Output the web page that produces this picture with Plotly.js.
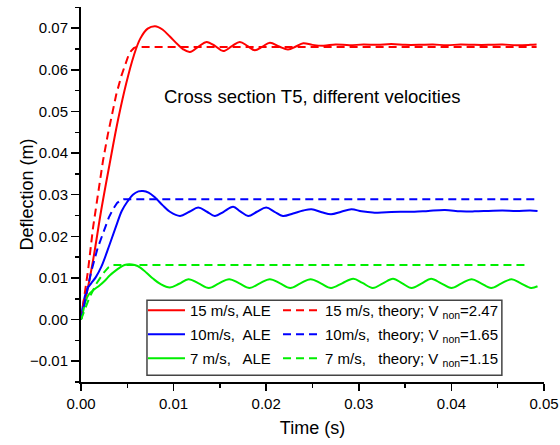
<!DOCTYPE html>
<html>
<head>
<meta charset="utf-8">
<script src="https://cdn.plot.ly/plotly-3.0.1.min.js"></script>
<style>html,body{margin:0;padding:0;background:#fff;} #chart{width:560px;height:445px;}</style>
</head>
<body>
<div id="chart"></div>
<script>
// ---- data ----
var tRed = [0,0.0003,0.0006,0.0013,0.0022,0.0031,0.0040,0.0049,0.0057,0.0064,0.0072,0.0080,0.0088,0.0096,0.0104,0.0110,0.01176,0.0127,0.01356,0.0145,0.01535,0.0163,0.01715,0.0180,0.01877,0.0196,0.0204,0.0214,0.02236,0.0232,0.0240,0.0250,0.0262,0.0275,0.0290,0.0305,0.0320,0.0335,0.0350,0.0365,0.0380,0.0395,0.0410,0.0425,0.0440,0.0455,0.0470,0.0485,0.0492];
var dRed = [0,0.0038,0.0062,0.0142,0.0265,0.0375,0.0480,0.0569,0.0634,0.0675,0.0699,0.0705,0.0697,0.0680,0.0662,0.0650,0.0643,0.0656,0.0667,0.0657,0.0645,0.0657,0.0667,0.0657,0.0647,0.0656,0.0665,0.0656,0.0649,0.0656,0.0664,0.0660,0.0658,0.0661,0.0659,0.0661,0.0660,0.0662,0.0660,0.0660,0.0661,0.0659,0.0661,0.0660,0.0660,0.0661,0.0659,0.0660,0.0661];

var tRedTh = [0,0.0004,0.00076,0.0013,0.0018,0.00237,0.0029,0.0033,0.0038,0.00435,0.0048,0.0051,0.0054,0.0057,0.0060,0.0492];
var dRedTh = [0,0.0062,0.0118,0.0221,0.0300,0.0381,0.0445,0.0489,0.0540,0.0585,0.0615,0.0633,0.0645,0.0652,0.0655,0.0655];

var tBlue = [0,0.0003,0.0007,0.0011,0.0016,0.0022,0.0031,0.0038,0.0044,0.0050,0.0056,0.0062,0.0067,0.0073,0.0080,0.0088,0.0096,0.0107,0.0117,0.01266,0.0136,0.01446,0.0154,0.01643,0.0172,0.01805,0.0190,0.0200,0.0209,0.0218,0.0229,0.0240,0.0249,0.0260,0.0270,0.0281,0.0292,0.0303,0.0315,0.0330,0.0345,0.0360,0.0375,0.0393,0.0410,0.0425,0.0440,0.0455,0.0470,0.0485,0.0493];
var dBlue = [0,0.0045,0.0075,0.0087,0.0102,0.0127,0.0181,0.0225,0.0261,0.0283,0.0300,0.0308,0.0309,0.0305,0.0293,0.0275,0.0259,0.0249,0.0259,0.0269,0.0259,0.0249,0.0259,0.0271,0.0260,0.0249,0.0259,0.0269,0.0259,0.0249,0.0255,0.0262,0.0265,0.0258,0.0253,0.0259,0.0265,0.0260,0.0257,0.0258,0.0259,0.0259,0.0261,0.0263,0.0260,0.0260,0.0261,0.0262,0.0261,0.0262,0.0261];

var tBlueTh = [0,0.0005,0.0011,0.0018,0.00255,0.0030,0.00345,0.0039,0.0043,0.0046,0.0490];
var dBlueTh = [0,0.0055,0.0115,0.0172,0.0221,0.0245,0.0265,0.0280,0.0287,0.0289,0.0289];

var tGreen = [0,0.00025,0.0005,0.0009,0.0014,0.0020,0.0026,0.0031,0.0037,0.0042,0.0047,0.0052,0.0058,0.0064,0.0071,0.0078,0.0086,0.0096,0.0106,0.0116,0.0127,0.0138,0.0149,0.0160,0.0171,0.0182,0.0193,0.0204,0.0215,0.0226,0.0237,0.0248,0.0259,0.0270,0.0282,0.0294,0.0304,0.0315,0.0326,0.0337,0.0347,0.0357,0.0368,0.0378,0.0389,0.0400,0.0411,0.0422,0.0432,0.0443,0.0454,0.0465,0.0475,0.0486,0.0493];
var dGreen = [0,0.0022,0.0045,0.0062,0.0072,0.0082,0.0094,0.0106,0.0117,0.0125,0.0131,0.0133,0.0131,0.0125,0.0112,0.0098,0.0085,0.0077,0.0086,0.0097,0.0087,0.0076,0.0087,0.0097,0.0087,0.0076,0.0087,0.0097,0.0087,0.0076,0.0087,0.0097,0.0087,0.0076,0.0087,0.0098,0.0088,0.0076,0.0087,0.0098,0.0087,0.0076,0.0087,0.0098,0.0087,0.0076,0.0087,0.0097,0.0087,0.0076,0.0087,0.0097,0.0087,0.0076,0.0080];

var tGreenTh = [0,0.0004,0.0009,0.00165,0.0020,0.00237,0.0027,0.0030,0.0033,0.0035,0.0481];
var dGreenTh = [0,0.0025,0.0052,0.0086,0.0099,0.0110,0.0119,0.0126,0.0130,0.0131,0.0131];

var aleNames = ['15 m/s, ALE', '10m/s,\u00a0 ALE', '7 m/s,\u00a0\u00a0 ALE'];
var thNames = ['15 m/s, theory; V <sub>non</sub>=2.47', '10m/s,\u00a0 theory; V <sub>non</sub>=1.65', '7 m/s,\u00a0\u00a0 theory; V <sub>non</sub>=1.15'];
var xTicks = [0, 0.01, 0.02, 0.03, 0.04, 0.05];
var yTicks = [-0.01, 0, 0.01, 0.02, 0.03, 0.04, 0.05, 0.06, 0.07];
var titleText = 'Cross section T5, different velocities';

// ---- styling ----
var FONT = 'Liberation Sans, Arial, Helvetica, sans-serif';
var RED = '#ff0000', BLUE = '#0000ff', GREEN = '#00ee00';

function solid(x, y, c, name, g){
  return {x:x, y:y, type:'scatter', mode:'lines', name:name, legend:'legend', legendgroup:g,
          line:{color:c, width:2, shape:'spline', smoothing:1.0}};
}
function dashed(x, y, c, name, g){
  return {x:x, y:y, type:'scatter', mode:'lines', name:name, legend:'legend2', legendgroup:g,
          line:{color:c, width:2, dash:'8px,5px', shape:'linear'}};
}

var traces = [
  solid(tRed, dRed, RED, aleNames[0], 'a1'),
  solid(tBlue, dBlue, BLUE, aleNames[1], 'a2'),
  solid(tGreen, dGreen, GREEN, aleNames[2], 'a3'),
  dashed(tRedTh, dRedTh, RED, thNames[0], 't1'),
  dashed(tBlueTh, dBlueTh, BLUE, thNames[1], 't2'),
  dashed(tGreenTh, dGreenTh, GREEN, thNames[2], 't3')
];

var legendCommon = {
  bgcolor:'rgba(0,0,0,0)', borderwidth:0, orientation:'v',
  xanchor:'left', yanchor:'top', y:0.2346, tracegroupgap:1.5,
  font:{family:FONT, size:15, color:'#000'}, itemwidth:37, traceorder:'grouped'
};

var layout = {
  width:560, height:445,
  margin:{l:81, r:16, t:7, b:63},
  paper_bgcolor:'#fff', plot_bgcolor:'#fff',
  font:{family:FONT, color:'#000'},
  showlegend:true,
  legend: Object.assign({}, legendCommon, {x:0.1339}),
  legend2: Object.assign({}, legendCommon, {x:0.4255}),
  xaxis:{
    range:[0,0.05], tickvals:xTicks, tickformat:'.2f',
    ticks:'outside', ticklen:7, tickwidth:1.5, tickcolor:'#000',
    showline:true, linewidth:2, linecolor:'#000', mirror:false,
    showgrid:false, zeroline:false,
    tickfont:{family:FONT, size:15, color:'#000'},
    minor:{dtick:0.005, ticks:'outside', ticklen:4, tickwidth:1.5, tickcolor:'#000', showgrid:false},
    title:{text:'Time (s)', font:{family:FONT, size:18, color:'#000'}, standoff:10}
  },
  xaxis2:{
    overlaying:'x', side:'top', anchor:'y', range:[0,0.05], dtick:0.005, tick0:0,
    ticks:'inside', ticklen:7, tickwidth:1.5, tickcolor:'#000',
    showline:true, linewidth:2, linecolor:'#000',
    showticklabels:false, showgrid:false, zeroline:false
  },
  yaxis:{
    range:[-0.015,0.0751], tickvals:yTicks, tickformat:'.2f',
    ticks:'outside', ticklen:8, tickwidth:1.5, tickcolor:'#000',
    showline:true, linewidth:2, linecolor:'#000', mirror:false,
    showgrid:false, zeroline:false,
    tickfont:{family:FONT, size:15, color:'#000'},
    minor:{dtick:0.005, ticks:'outside', ticklen:4, tickwidth:1.5, tickcolor:'#000', showgrid:false},
    title:{text:'Deflection (m)', font:{family:FONT, size:18, color:'#000'}}
  },
  yaxis2:{
    overlaying:'y', side:'right', anchor:'x', range:[-0.015,0.0751], dtick:0.005, tick0:0,
    ticks:'inside', ticklen:7, tickwidth:1.5, tickcolor:'#000',
    showline:true, linewidth:2, linecolor:'#000',
    showticklabels:false, showgrid:false, zeroline:false
  },
  shapes:[{
    type:'rect', xref:'paper', yref:'paper', layer:'below',
    x0:0.1425, x1:0.909, y0:0.0179, y1:0.218,
    line:{color:'#444', width:1.5}, fillcolor:'#fff'
  }],
  annotations:[{
    text:titleText, x:0.02494, y:0.0535, xref:'x', yref:'y', showarrow:false,
    font:{family:FONT, size:18.5, color:'#000'}, xanchor:'center', yanchor:'middle'
  }]
};

Plotly.newPlot('chart', traces, layout, {displayModeBar:false, staticPlot:true});
</script>
</body>
</html>
